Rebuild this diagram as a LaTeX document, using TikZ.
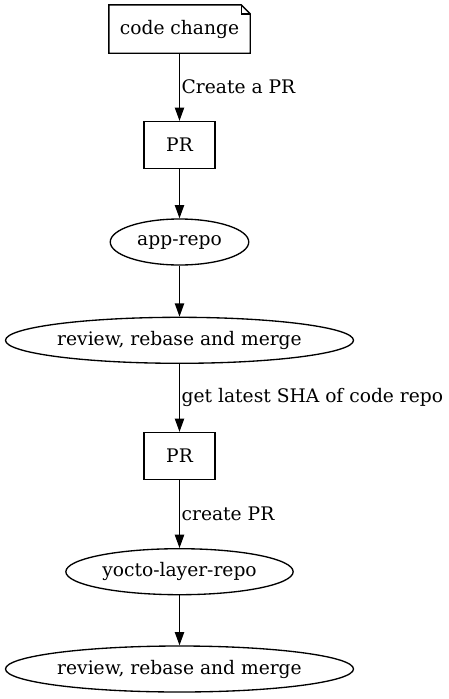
\documentclass[tikz,border=0pt]{standalone}
\usepackage{fontspec}
\setmainfont{DejaVu Serif}
\usetikzlibrary{shapes.geometric,arrows.meta}

\begin{document}
\begin{tikzpicture}[x=1pt, y=-1pt, line width=1.33pt,
  font=\fontsize{18.67}{22}\selectfont,
  box/.style={draw, rectangle, minimum width=71pt, minimum height=47pt, inner sep=0pt},
  oval/.style={draw, ellipse, minimum height=46pt, inner sep=0pt},
  edge/.style={-{Triangle[length=13.3pt,width=9.3pt]}},
  lbl/.style={anchor=west, inner sep=1.5pt}]
\useasboundingbox (0,0) rectangle (448,699);
\node [minimum width=140pt, minimum height=47pt, inner sep=0pt] (change) at (179.5,29) {code change};
\draw (change.north west) -- ([xshift=-9pt]change.north east) -- ([yshift=-9pt]change.north east) -- (change.south east) -- (change.south west) -- cycle;
\draw ([xshift=-9pt]change.north east) -- ([xshift=-9pt,yshift=-9pt]change.north east) -- ([yshift=-9pt]change.north east);
\node [box] (pr1) at (179.5,145) {PR};
\node [oval, minimum width=138.5pt] (app) at (179.5,242) {app-repo};
\node [oval, minimum width=348pt] (review1) at (179.5,340.3) {review, rebase and merge};
\node [box] (pr2) at (179.5,456) {PR};
\node [oval, minimum width=227.3pt] (yocto) at (179.5,571.7) {yocto-layer-repo};
\node [oval, minimum width=348pt] (review2) at (179.5,669) {review, rebase and merge};

\draw [edge] (change) -- node [lbl] {Create a PR} (pr1);
\draw [edge] (pr1) -- (app);
\draw [edge] (app) -- (review1);
\draw [edge] (review1) -- node [lbl] {get latest SHA of code repo} (pr2);
\draw [edge] (pr2) -- node [lbl] {create PR} (yocto);
\draw [edge] (yocto) -- (review2);
\end{tikzpicture}
\end{document}
